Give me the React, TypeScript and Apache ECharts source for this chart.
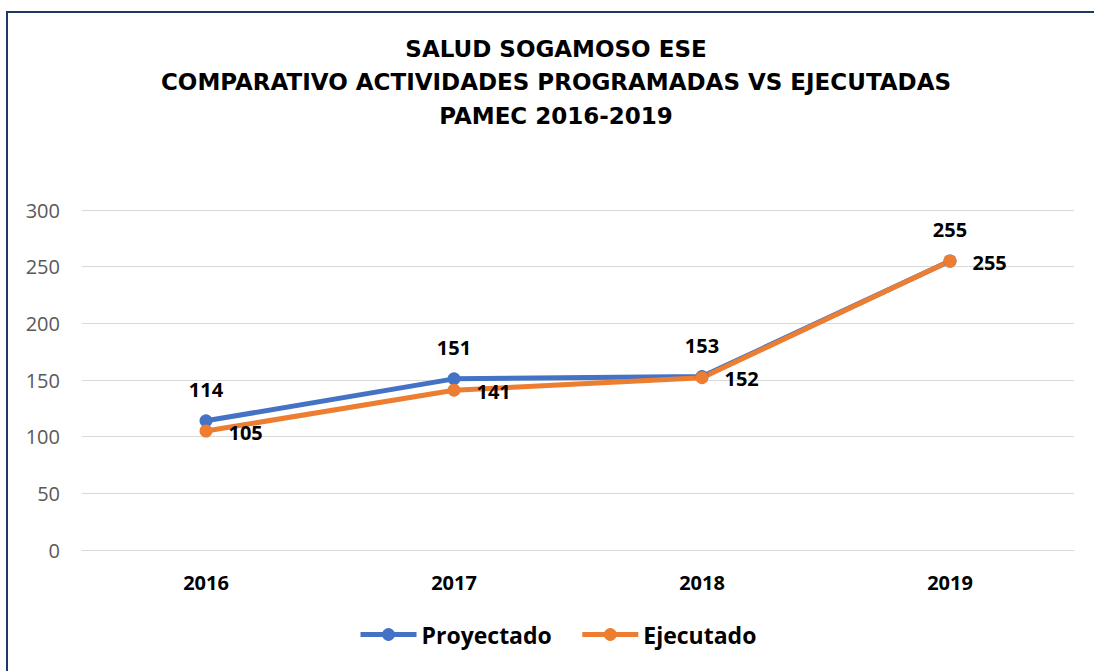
import React, { useEffect, useRef } from "react";
import * as echarts from "echarts";

const categories = ["2016", "2017", "2018", "2019"];
const proyectado = [114, 151, 153, 255];
const ejecutado = [105, 141, 152, 255];
const titleLines = [
  "SALUD SOGAMOSO ESE",
  "COMPARATIVO ACTIVIDADES PROGRAMADAS VS EJECUTADAS",
  "PAMEC 2016-2019",
];

export default function App() {
  const ref = useRef<HTMLDivElement>(null);
  useEffect(() => {
    document.body.style.margin = "0";
    const chart = echarts.init(ref.current!, null, { renderer: "svg" });
    const labelFont = "Open Sans";
    const titleY = [49, 82, 116];
    chart.setOption({
      animation: false,
      backgroundColor: "#ffffff",
      graphic: [
        {
          type: "polyline",
          shape: { points: [[7, 680], [7, 12], [1100, 12]] },
          style: { stroke: "#1F3864", lineWidth: 2, fill: "none" },
          silent: true,
        },
        ...titleLines.map((t, i) => ({
          type: "text",
          x: 556,
          y: titleY[i],
          silent: true,
          style: {
            text: t,
            align: "center",
            verticalAlign: "middle",
            fontFamily: "DejaVu Sans",
            fontWeight: "bold",
            fontSize: 23,
            fill: "#000000",
          },
        })),
      ],
      grid: { left: 82, right: 20, top: 210, bottom: 121, containLabel: false },
      legend: {
        bottom: 20,
        left: 353,
        itemWidth: 56,
        itemHeight: 16,
        itemGap: 28,
        lineStyle: { width: 5 },
        textStyle: { fontFamily: labelFont, fontWeight: "bold", fontSize: 23, color: "#000" },
        data: ["Proyectado", "Ejecutado"],
      },
      xAxis: {
        type: "category",
        data: categories,
        axisLine: { lineStyle: { color: "#d9d9d9", width: 1 } },
        axisTick: { show: false },
        axisLabel: {
          margin: 22,
          fontFamily: labelFont,
          fontWeight: "bold",
          fontSize: 20,
          color: "#000",
        },
      },
      yAxis: {
        type: "value",
        min: 0,
        max: 300,
        interval: 50,
        axisLine: { show: false },
        axisTick: { show: false },
        splitLine: { lineStyle: { color: "#d9d9d9", width: 1 } },
        axisLabel: { margin: 22, fontFamily: labelFont, fontSize: 20, color: "#595959" },
      },
      series: [
        {
          name: "Proyectado",
          type: "line",
          data: proyectado,
          color: "#4472C4",
          lineStyle: { width: 5, color: "#4472C4" },
          itemStyle: { color: "#4472C4" },
          symbol: "circle",
          symbolSize: 13,
          label: {
            show: true,
            position: "top",
            distance: 15,
            fontFamily: labelFont,
            fontWeight: "bold",
            fontSize: 20,
            color: "#000",
          },
        },
        {
          name: "Ejecutado",
          type: "line",
          data: ejecutado,
          color: "#ED7D31",
          lineStyle: { width: 5, color: "#ED7D31" },
          itemStyle: { color: "#ED7D31" },
          symbol: "circle",
          symbolSize: 13,
          label: {
            show: true,
            position: "right",
            distance: 16,
            offset: [0, 1],
            fontFamily: labelFont,
            fontWeight: "bold",
            fontSize: 20,
            color: "#000",
          },
        },
      ],
    });
    return () => chart.dispose();
  }, []);
  return (
    <div
      ref={ref}
      style={{ position: "fixed", left: 0, top: 0, width: 1094, height: 671 }}
    />
  );
}
